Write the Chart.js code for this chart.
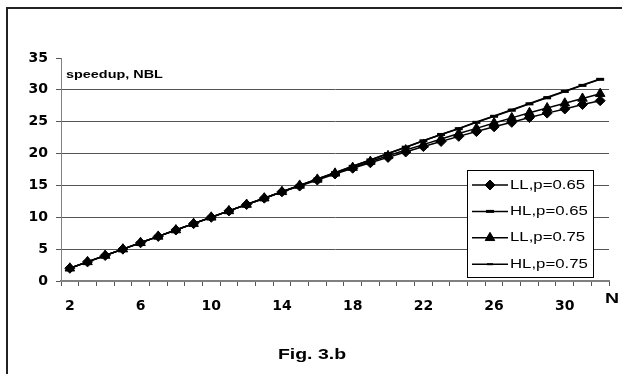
<!DOCTYPE html>
<html>
<head>
<meta charset="utf-8">
<script src="https://cdn.jsdelivr.net/npm/chart.js@4/dist/chart.umd.min.js"></script>
<style>
  html, body { margin: 0; padding: 0; background: #fff; }
  #wrap { width: 622px; height: 374px; }
</style>
</head>
<body>
<div id="wrap"><canvas id="speedupChart" width="622" height="374"></canvas></div>
<script>
const nValues = ['2', '3', '4', '5', '6', '7', '8', '9', '10', '11', '12', '13', '14', '15', '16', '17',
    '18', '19', '20', '21', '22', '23', '24', '25', '26', '27', '28', '29', '30', '31', '32'];
const llP065 = [2, 3, 4, 5, 6, 7, 8, 9, 10, 11, 12, 13, 14, 14.9, 15.85, 16.8,
    17.7, 18.55, 19.4, 20.25, 21.1, 21.9, 22.7, 23.45, 24.2, 24.9, 25.65, 26.35, 27.0, 27.7, 28.3];
const hlP065 = [2, 3, 4, 5, 6, 7, 8, 9, 10, 11, 12, 13, 14, 15, 16, 17,
    18, 19, 20, 21, 22, 23, 23.9, 24.9, 25.85, 26.8, 27.8, 28.75, 29.75, 30.7, 31.65];
const llP075 = [2, 3, 4, 5, 6, 7, 8, 9, 10, 11, 12, 13, 14, 15, 15.95, 16.9,
    17.8, 18.75, 19.65, 20.55, 21.4, 22.3, 23.15, 23.95, 24.8, 25.6, 26.4, 27.15, 27.9, 28.65, 29.4];
const hlP075 = [2, 3, 4, 5, 6, 7, 8, 9, 10, 11, 12, 13, 14, 15, 16, 17,
    18, 19, 20, 21, 22, 23, 23.95, 24.95, 25.9, 26.9, 27.85, 28.85, 29.8, 30.75, 31.7];
const yTicks = [0, 5, 10, 15, 20, 25, 30, 35];

const textFont = '"Liberation Sans", Arial, sans-serif';
const tickFont = { family: '"DejaVu Sans", sans-serif', size: 14, weight: 'bold' };

// stretched text, the original figure is wider than normal Arial
function wideText(ctx, text, x, y, font, align, sx) {
    ctx.save();
    ctx.font = font;
    ctx.textBaseline = 'middle';
    ctx.textAlign = align;
    ctx.translate(x, y);
    ctx.scale(sx, 1);
    ctx.fillStyle = '#000';
    ctx.fillText(text, 0, 0);
    ctx.restore();
}

const extras = {
    id: 'extras',
    beforeDraw(chart) {
        const ctx = chart.ctx;
        ctx.save();
        ctx.strokeStyle = '#222';
        ctx.lineWidth = 2;
        ctx.beginPath();
        ctx.moveTo(7, 374);
        ctx.lineTo(7, 8);
        ctx.lineTo(622, 8);
        ctx.stroke();
        ctx.restore();
    },
    afterDraw(chart) {
        const ctx = chart.ctx;
        wideText(ctx, 'speedup, NBL', 66, 75, 'bold 11px ' + textFont, 'left', 1.31);
        wideText(ctx, 'N', 612, 299, 'bold 15px ' + textFont, 'center', 1.3);
        wideText(ctx, 'Fig. 3.b', 312, 355, 'bold 15px ' + textFont, 'center', 1.3);

        // legend box inside the plot
        ctx.save();
        ctx.fillStyle = '#fff';
        ctx.fillRect(467, 170, 126, 107);
        ctx.strokeStyle = '#000';
        ctx.lineWidth = 1;
        ctx.strokeRect(467.5, 170.5, 126, 107);
        chart.data.datasets.forEach((ds, i) => {
            const y = 185 + i * 26.4;
            ctx.strokeStyle = '#000';
            ctx.lineWidth = 1.5;
            ctx.beginPath();
            ctx.moveTo(472, y);
            ctx.lineTo(508, y);
            ctx.stroke();
            ctx.fillStyle = '#000';
            ctx.lineWidth = ds.pointBorderWidth;
            Chart.helpers.drawPoint(ctx, {
                pointStyle: ds.pointStyle,
                radius: ds.pointRadius,
                borderWidth: ds.pointBorderWidth,
                rotation: 0
            }, 490, y);
            wideText(ctx, ds.label, 510, y, '13px ' + textFont, 'left', 1.29);
        });
        ctx.restore();
    }
};

function lineSet(label, data, style, radius, bw) {
    return {
        label: label,
        data: data,
        borderColor: '#000',
        backgroundColor: '#000',
        borderWidth: 1.5,
        pointStyle: style,
        pointRadius: radius,
        pointBorderWidth: bw,
        pointBackgroundColor: '#000',
        pointBorderColor: '#000',
        tension: 0
    };
}

const ctx = document.getElementById('speedupChart').getContext('2d');
new Chart(ctx, {
    type: 'line',
    data: {
        labels: nValues,
        datasets: [
            lineSet('LL,p=0.65', llP065, 'rectRot', 5, 1),
            lineSet('HL,p=0.65', hlP065, 'line', 4, 3),
            lineSet('LL,p=0.75', llP075, 'triangle', 5.5, 1),
            lineSet('HL,p=0.75', hlP075, 'line', 3, 2)
        ]
    },
    options: {
        responsive: false,
        animation: false,
        layout: { padding: { left: 0, right: 13, top: 58, bottom: 0 } },
        plugins: {
            legend: { display: false },
            title: { display: false },
            tooltip: { enabled: false }
        },
        scales: {
            x: {
                type: 'category',
                offset: true,
                afterFit(scale) { scale.height = 93; },
                grid: {
                    offset: true,
                    drawOnChartArea: false,
                    drawTicks: true,
                    tickLength: 5,
                    tickColor: '#555'
                },
                border: { color: '#808080', width: 2 },
                ticks: {
                    autoSkip: false,
                    maxRotation: 0,
                    padding: 12,
                    color: '#000',
                    font: tickFont,
                    callback(val, idx) {
                        return idx % 4 === 0 ? this.getLabelForValue(val) : '';
                    }
                }
            },
            y: {
                min: yTicks[0],
                max: yTicks[yTicks.length - 1],
                afterFit(scale) { scale.width = 61; },
                afterBuildTicks(scale) { scale.ticks = yTicks.map(v => ({ value: v })); },
                grid: {
                    color: c => (c.tick && c.tick.value === 35) ? 'rgba(0,0,0,0)' : '#555',
                    tickColor: '#555',
                    tickLength: 5,
                    lineWidth: 1
                },
                border: { color: '#808080', width: 1 },
                ticks: {
                    padding: 8,
                    color: '#000',
                    font: tickFont
                }
            }
        }
    },
    plugins: [extras]
});
</script>
</body>
</html>
